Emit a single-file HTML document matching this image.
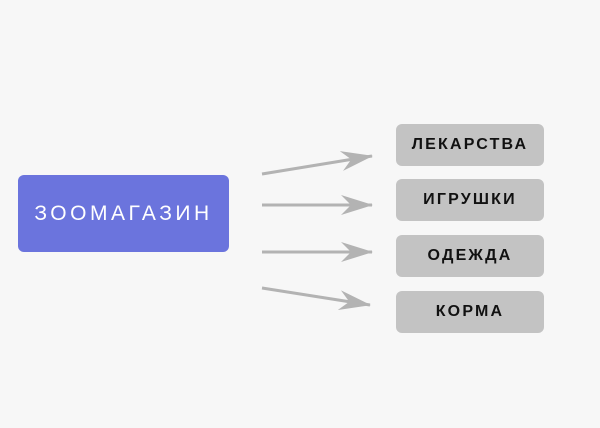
<!DOCTYPE html>
<html><head><meta charset="utf-8"><style>
body{margin:0;width:600px;height:428px;background:#f7f7f7;position:relative;overflow:hidden;font-family:"Liberation Sans","DejaVu Sans",sans-serif}
.b{position:absolute;display:flex;align-items:center;justify-content:center;border-radius:6px;font-weight:bold;letter-spacing:2px}
.m{left:18px;top:175px;width:211px;height:77px;background:#6b74dd;color:#fff;font-size:21px;font-weight:normal;letter-spacing:3.5px}
.g{left:396px;width:148px;height:42px;background:#c3c3c3;color:#111;font-size:16px;letter-spacing:2.2px}
svg{position:absolute;left:0;top:0}
</style></head><body>
<div class="b m">ЗООМАГАЗИН</div>
<div class="b g" style="top:124px">ЛЕКАРСТВА</div>
<div class="b g" style="top:179px">ИГРУШКИ</div>
<div class="b g" style="top:235px">ОДЕЖДА</div>
<div class="b g" style="top:291px">КОРМА</div>
<svg width="600" height="428">
<defs><marker id="a" viewBox="0 0 32 20" refX="31" refY="10" markerWidth="32" markerHeight="20" markerUnits="userSpaceOnUse" orient="auto"><path d="M0,0 L32,10 L0,20 L10,10 Z" fill="#b3b3b3"/></marker></defs>
<g stroke="#b3b3b3" stroke-width="3" fill="none">
<line x1="262" y1="174" x2="372" y2="156" marker-end="url(#a)"/>
<line x1="262" y1="205" x2="372" y2="205" marker-end="url(#a)"/>
<line x1="262" y1="252" x2="372" y2="252" marker-end="url(#a)"/>
<line x1="262" y1="288" x2="370" y2="305" marker-end="url(#a)"/>
</g></svg>
</body></html>
